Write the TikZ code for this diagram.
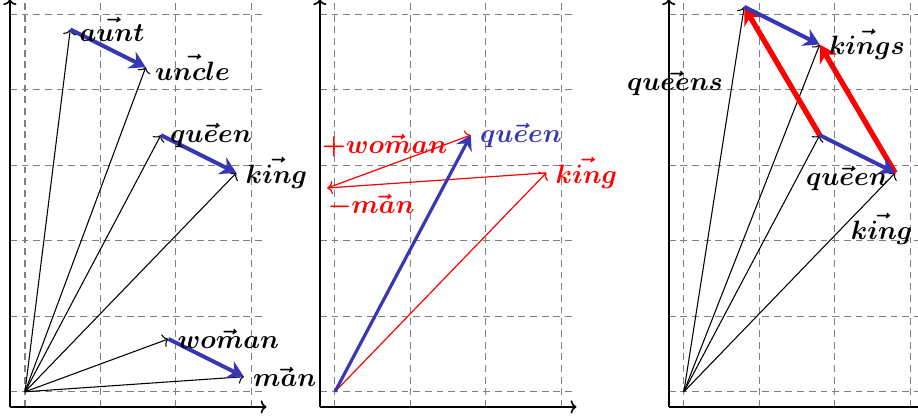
\documentclass[tikz,border=0pt]{standalone}
\usepackage{amsmath}
\usetikzlibrary{arrows.meta}
\definecolor{vblue}{RGB}{55,55,180}
\newcommand\wlab[1]{$\boldsymbol{\vec{#1}}$}
\begin{document}
\begin{tikzpicture}[x=1cm,y=1cm,
  gridline/.style={gray,line width=0.4pt,dash pattern=on 2.6pt off 1.8pt},
  axisline/.style={semithick,-{To[length=2.2pt,width=5pt]}},
  thinvec/.style={line width=0.4pt,-{To[length=2pt,width=5pt]}},
  bluevec/.style={vblue,line width=1.5pt,-{Stealth[length=6pt,width=7pt,inset=2pt]}},
  redvec/.style={red,line width=2pt,-{Stealth[length=6.5pt,width=7.5pt,inset=2pt]}},
  redthin/.style={red,line width=0.45pt,-{To[length=2pt,width=5pt]}},
  lab/.style={inner sep=3.3pt}]
\useasboundingbox (-0.331,-0.358) rectangle (11.83,5.19);

% ---------------- panel 1
\begin{scope}
\draw[gridline] (-0.2,-0.2) grid (3.2,5.2);
\coordinate (aO) at (-0.2,-0.2);
\coordinate (aX) at (3.2,-0.2);
\coordinate (aY) at (-0.2,5.2);
\draw[axisline] (aO) -- (aX);
\draw[axisline] (aO) -- (aY);
\coordinate (a0) at (0,0);
\coordinate (aaunt) at (0.6,4.8);
\coordinate (auncle) at (1.6,4.3);
\coordinate (aqueen) at (1.8,3.4);
\coordinate (aking) at (2.8,2.9);
\coordinate (awoman) at (1.9,0.7);
\coordinate (aman) at (2.9,0.2);
\foreach \p in {aaunt,auncle,aqueen,aking,awoman,aman}
  \draw[thinvec] (a0) -- (\p);
\draw[bluevec] (aaunt) -- (auncle);
\draw[bluevec] (aqueen) -- (aking);
\draw[bluevec] (awoman) -- (aman);
\node[lab,right] (laaunt) at (aaunt) {\wlab{aunt}};
\node[lab,right] (launcle) at (auncle) {\wlab{uncle}};
\node[lab,right] (laqueen) at (aqueen) {\wlab{queen}};
\node[lab,right] (laking) at (aking) {\wlab{king}};
\node[lab,right] (lawoman) at (awoman) {\wlab{woman}};
\node[lab,right] (laman) at (aman) {\wlab{man}};
\end{scope}

% ---------------- panel 2
\begin{scope}[shift={(4.106,0)}]
\draw[gridline] (-0.2,-0.2) grid (3.2,5.2);
\coordinate (bO) at (-0.2,-0.2);
\coordinate (bX) at (3.2,-0.2);
\coordinate (bY) at (-0.2,5.2);
\draw[axisline] (bO) -- (bX);
\draw[axisline] (bO) -- (bY);
\coordinate (b0) at (0,0);
\coordinate (bqueen) at (1.8,3.4);
\coordinate (bking) at (2.8,2.9);
\coordinate (bmid) at (-0.1,2.7);
\draw[redthin] (b0) -- (bking);
\draw[redthin] (bking) -- node[pos=0.8,below,lab,text=red] (lbman) {$\boldsymbol{-\vec{man}}$} (bmid);
\draw[redthin] (bmid) -- node[pos=0.4,above,lab,text=red] (lbwoman) {$\boldsymbol{+\vec{woman}}$} (bqueen);
\draw[vblue,line width=1.2pt,-{Stealth[length=5.5pt,width=6.5pt,inset=2pt]}] (b0) -- (bqueen);
\node[lab,right,text=vblue] (lbqueen) at (bqueen) {\wlab{queen}};
\node[lab,right,text=red] (lbking) at (bking) {\wlab{king}};
\end{scope}

% ---------------- panel 3
\begin{scope}[shift={(8.728,0)}]
\draw[gridline] (-0.2,-0.2) grid (3.2,5.2);
\coordinate (cO) at (-0.2,-0.2);
\coordinate (cX) at (3.2,-0.2);
\coordinate (cY) at (-0.2,5.2);
\draw[axisline] (cO) -- (cX);
\draw[axisline] (cO) -- (cY);
\coordinate (c0) at (0,0);
\coordinate (cqueens) at (0.8,5.1);
\coordinate (ckings) at (1.8,4.6);
\coordinate (cqueen) at (1.8,3.4);
\coordinate (cking) at (2.8,2.9);
\draw[thinvec] (c0) -- node[pos=0.8,left,lab] (lcqueens) {\wlab{queens}} (cqueens);
\draw[thinvec] (c0) -- (ckings);
\draw[thinvec] (c0) -- (cqueen);
\draw[thinvec] (c0) -- (cking);
\draw[redvec] (cqueen) -- (cqueens);
\draw[redvec] (cking) -- (ckings);
\draw[bluevec] (cqueens) -- (ckings);
\draw[bluevec] (cqueen) -- (cking);
\node[lab,right] (lckings) at (ckings) {\wlab{kings}};
\node[lab] (lcqueen) at (2.16,2.82) {\wlab{queen}};
\node[lab] (lcking) at (2.62,2.16) {\wlab{king}};
\end{scope}
\end{tikzpicture}
\end{document}
